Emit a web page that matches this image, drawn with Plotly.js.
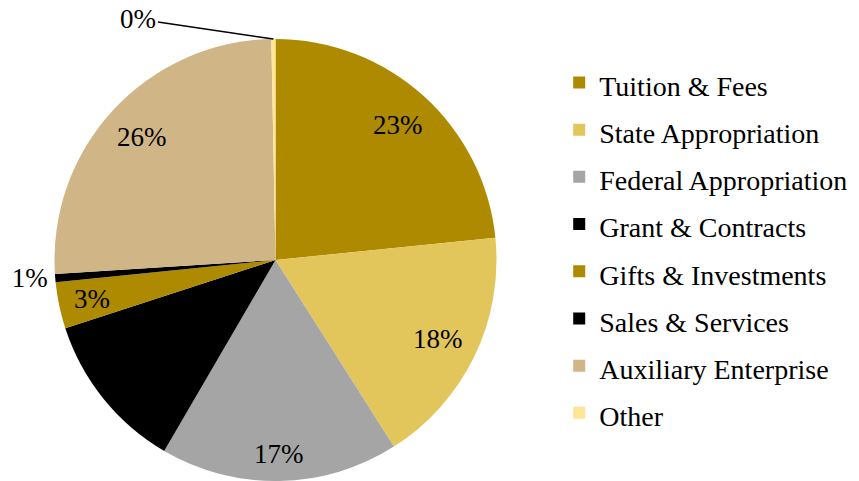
<!DOCTYPE html>
<html>
<head>
<meta charset="utf-8">
<script src="https://cdn.plot.ly/plotly-3.0.1.min.js"></script>
<style>html,body{margin:0;padding:0;background:#fff;overflow:hidden}#chart{width:859px;height:481px}</style>
</head>
<body>
<div id="chart"></div>
<script>
const categories = ["Tuition & Fees", "State Appropriation", "Federal Appropriation", "Grant & Contracts",
                    "Gifts & Investments", "Sales & Services", "Auxiliary Enterprise", "Other"];
const shares = [23.4, 17.6, 17.4, 11.6, 3.4, 0.6, 25.7, 0.3];
const sliceColors = ["#AD8A00", "#E3C65B", "#A5A5A5", "#000000", "#AD8A00", "#000000", "#D0B586", "#FFE594"];
// how each percentage label is shown: inside the slice, outside (Plotly), or with a leader line
const labelModes = ["inside", "inside", "inside", "inside", "inside", "outside", "inside", "leader"];

const FONT = "Liberation Serif, Cambria, serif";
const W = 859, H = 481;
const DOM_X = [54.5 / W, 496.5 / W], DOM_Y = [0, 442 / H];
const LABEL_SIZE = 27;

const legendLabels = categories.map(c => '<span style="font-size:28px">' + c + '</span>');

const total = shares.reduce((a, b) => a + b, 0);
const pctText = shares.map(v => Math.round(v / total * 100) + "%");

// pie geometry derived from its domain
const cx = (DOM_X[0] + DOM_X[1]) / 2 * W;
const cy = (1 - (DOM_Y[0] + DOM_Y[1]) / 2) * H;
const R = Math.min((DOM_X[1] - DOM_X[0]) * W, (DOM_Y[1] - DOM_Y[0]) * H) / 2;

const annotations = [];
let cum = 0;
shares.forEach((v, i) => {
  const mid = (cum + v / 2) / total * 2 * Math.PI;
  cum += v;
  const ux = Math.sin(mid), uy = -Math.cos(mid);
  if (labelModes[i] === "inside") {
    const t = pctText[i];
    const digits = t.length - 1;
    const hw = (digits * 0.5 + 0.833) * LABEL_SIZE / 2, hh = 0.42 * LABEL_SIZE;
    const c = [hw * Math.sign(ux), hh * Math.sign(uy)];
    const uc = ux * c[0] + uy * c[1];
    const Rf = 0.94 * R;
    const d = -uc + Math.sqrt(uc * uc - (c[0] * c[0] + c[1] * c[1]) + Rf * Rf);
    const px = cx + d * ux, py = cy + d * uy;
    annotations.push({x: px / W, y: 1 - py / H, xref: "paper", yref: "paper",
      text: t, showarrow: false, xanchor: "center", yanchor: "middle",
      font: {family: FONT, size: LABEL_SIZE, color: "#000"}});
  } else if (labelModes[i] === "leader") {
    const px = cx + R * ux, py = cy + R * uy;
    annotations.push({x: px / W, y: 1 - py / H, xref: "paper", yref: "paper",
      text: pctText[i], showarrow: true, arrowhead: 0, arrowwidth: 1.5, arrowcolor: "#000",
      ax: -135, ay: -20, standoff: 0,
      font: {family: FONT, size: LABEL_SIZE, color: "#000"}});
  }
});

const trace = {
  type: "pie",
  labels: legendLabels,
  values: shares,
  sort: false,
  direction: "clockwise",
  rotation: 0,
  marker: {colors: sliceColors, line: {width: 0}},
  texttemplate: "%{percent:.0%}",
  textposition: labelModes.map(m => m === "outside" ? "outside" : "none"),
  textfont: {family: FONT, size: LABEL_SIZE, color: "#000"},
  hoverinfo: "label+percent",
  domain: {x: DOM_X, y: DOM_Y}
};

const layout = {
  width: W, height: H,
  margin: {l: 0, r: 0, t: 0, b: 0},
  paper_bgcolor: "#fff",
  showlegend: true,
  legend: {
    x: 0.651, xanchor: "left", y: 0.888, yanchor: "top",
    font: {family: FONT, size: 34, color: "#000"},
    bgcolor: "rgba(0,0,0,0)", borderwidth: 0
  },
  annotations: annotations,
  font: {family: FONT}
};

Plotly.newPlot("chart", [trace], layout, {displayModeBar: false, staticPlot: true});
</script>
</body>
</html>
